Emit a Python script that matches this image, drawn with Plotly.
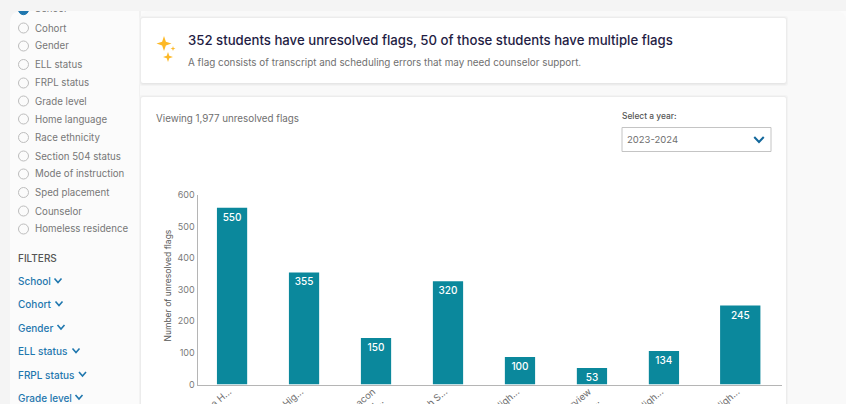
import plotly.graph_objects as go

W, H = 846, 404
categories = ["Alma H...", "Lee Hig...", "Beacon<br>H...", "Birch S...", "Oak High...", "Clearview<br>High...", "Elm High...", "West High..."]
bar_positions = [0, 1, 2, 3, 4, 5, 6, 7.06]
bar_heights = [560, 355, 147, 327, 87, 52, 106, 250]
bar_labels = ["550", "355", "150", "320", "100", "53", "134", "245"]
bar_widths = [0.42, 0.42, 0.42, 0.42, 0.42, 0.42, 0.42, 0.56]
y_ticks = [0, 100, 200, 300, 400, 500, 600]
radio_labels = ["School", "Cohort", "Gender", "ELL status", "FRPL status", "Grade level", "Home language", "Race ethnicity",
                "Section 504 status", "Mode of instruction", "Sped placement", "Counselor", "Homeless residence"]
filter_labels = ["School", "Cohort", "Gender", "ELL status", "FRPL status", "Grade level"]
FONT = "Inter"
TEAL = "#0b889c"
BLUE = "#1f77ae"
GREY = "#6f6f6f"

def fx(x): return x / W
def fy(y): return 1 - y / H

shapes, annos = [], []

def rect(x0, y0, x1, y1, fill, line=None, lw=1, layer="below"):
    shapes.append(dict(type="rect", xref="paper", yref="paper", x0=fx(x0), x1=fx(x1), y0=fy(y1), y1=fy(y0),
                       fillcolor=fill, line=dict(color=line or "rgba(0,0,0,0)", width=lw if line else 0), layer=layer))

def rrect(x0, y0, x1, y1, r, fill):
    p = (f"M{fx(x0+r)},{fy(y0)} L{fx(x1-r)},{fy(y0)} Q{fx(x1)},{fy(y0)} {fx(x1)},{fy(y0+r)} "
         f"L{fx(x1)},{fy(y1-r)} Q{fx(x1)},{fy(y1)} {fx(x1-r)},{fy(y1)} L{fx(x0+r)},{fy(y1)} "
         f"Q{fx(x0)},{fy(y1)} {fx(x0)},{fy(y1-r)} L{fx(x0)},{fy(y0+r)} Q{fx(x0)},{fy(y0)} {fx(x0+r)},{fy(y0)} Z")
    shapes.append(dict(type="path", xref="paper", yref="paper", path=p, fillcolor=fill, line=dict(width=0), layer="below"))

def circle(cx, cy, r, fill, line, lw=1):
    shapes.append(dict(type="circle", xref="paper", yref="paper", x0=fx(cx-r), x1=fx(cx+r), y0=fy(cy+r), y1=fy(cy-r),
                       fillcolor=fill, line=dict(color=line, width=lw), layer="below"))

def text(x, y, s, size, color, anchor="left", weight=400, **kw):
    annos.append(dict(xref="paper", yref="paper", x=fx(x), y=fy(y), text=s, showarrow=False, xanchor=anchor, yanchor="middle",
                      borderpad=0, xshift=-1 if anchor == "left" else 0,
                      font=dict(family=FONT, size=size, color=color, weight=weight), **kw))

def chevron(cx, cy, w, h, color, lw=1.6):
    p = f"M{fx(cx-w/2)},{fy(cy-h/2)} L{fx(cx)},{fy(cy+h/2)} L{fx(cx+w/2)},{fy(cy-h/2)}"
    shapes.append(dict(type="path", xref="paper", yref="paper", path=p, line=dict(color=color, width=lw), layer="above"))

def star(cx, cy, r, color):
    k = r * 0.25
    p = (f"M{fx(cx)},{fy(cy-r)} L{fx(cx+k)},{fy(cy-k)} L{fx(cx+r)},{fy(cy)} L{fx(cx+k)},{fy(cy+k)} "
         f"L{fx(cx)},{fy(cy+r)} L{fx(cx-k)},{fy(cy+k)} L{fx(cx-r)},{fy(cy)} L{fx(cx-k)},{fy(cy-k)} Z")
    shapes.append(dict(type="path", xref="paper", yref="paper", path=p, fillcolor=color, line=dict(width=0), layer="below"))

def shadow_card(x0, y0, x1, y1):
    for d, c in [(3, "#f3f3f3"), (2, "#ececec"), (1, "#e6e6e6")]:
        rrect(x0 - d + 1, y0 - d + 1, x1 + d - 1, y1 + d, 3, c)
    rrect(x0, y0, x1, y1, 2, "#ffffff")

# page backgrounds
rect(0, 0, W, H, "#f4f4f4")
rrect(10, 11, 860, 430, 12, "#fbfbfb")
rect(139, 11, 141, H, "#f1f1f1")
rrect(140, 11, 846, 430, 10, "#f9f9f9")
shadow_card(141, 18, 786, 83)
shadow_card(141, 97, 786, 420)

# sidebar
ys = [9.7, 28, 46, 64.5, 83, 101, 119, 137.5, 156, 174, 192.5, 211, 229]
for i, (lab, y) in enumerate(zip(radio_labels, ys)):
    if i == 0:
        circle(23.5, y, 5, "#1f77ae", "#1f77ae")
    else:
        circle(23.5, y, 5, "#fbfbfb", "#bdbdbd")
        text(35, y, lab, 9.7, "#777777")
rect(10, 0, 140, 11, "#f4f4f4", layer="above")
text(17.5, 257.5, "FILTERS", 10, "#555555", weight=500)
for lab, y, cx in zip(filter_labels, [281, 304, 327.5, 351, 374.5, 397.5], [58, 59, 61, 76, 82.5, 79]):
    text(17.5, y, lab, 10, BLUE, weight=500)
    chevron(cx, y - 0.5, 7, 4, BLUE)

# header card
star(164, 43.5, 7.5, "#fdb927")
star(173, 48.5, 2.5, "#fdb927")
star(168, 57, 5, "#fdb927")
text(187.5, 40, "352 students have unresolved flags, 50 of those students have multiple flags", 13.2, "#1f1d44", weight=500)
text(187.5, 62, "A flag consists of transcript and scheduling errors that may need counselor support.", 9.9, "#707070")

# chart card texts
text(156, 118, "Viewing 1,977 unresolved flags", 9.8, GREY)
text(622, 116.5, "Select a year:", 8.4, "#555555", weight=500)
rect(622, 127.5, 771, 151.5, "#ffffff", "#c4c4c4", 1, "above")
text(627, 139, "2023-2024", 9.5, GREY)
chevron(759, 139.5, 9.5, 5, "#12679b", 2)
annos.append(dict(xref="paper", yref="paper", x=fx(167), y=fy(285.5), text="Number of unresolved flags", textangle=-90,
                  showarrow=False, xanchor="center", yanchor="middle", borderpad=0,
                  font=dict(family=FONT, size=8.5, color="#555555")))

fig = go.Figure(go.Bar(
    x=bar_positions, y=bar_heights, width=bar_widths, marker=dict(color=TEAL, line=dict(width=0)),
    text=bar_labels, textposition="inside", insidetextanchor="end", textangle=0, constraintext="none",
    textfont=dict(family=FONT, size=10, color="white", weight=500), cliponaxis=False,
))
# "School" radio label, sliced by the page's top band as in the reference
fig.add_trace(go.Scatter(x=[35], y=[ys[0]], mode="text", text=[radio_labels[0]], textposition="middle right",
                         textfont=dict(family=FONT, size=9.7, color="#777777"), xaxis="x2", yaxis="y2",
                         hoverinfo="skip", cliponaxis=False))
fig.update_layout(
    width=W, height=H, margin=dict(l=0, r=0, t=0, b=0), autosize=False, showlegend=False,
    paper_bgcolor="rgba(0,0,0,0)", plot_bgcolor="rgba(0,0,0,0)", shapes=shapes, annotations=annos,
    xaxis=dict(domain=[fx(197.5), fx(782)], range=[-0.48, 7.64], tickvals=bar_positions, ticktext=categories,
               tickangle=-40, ticks="", automargin=False, ticklabelstandoff=-3, ticklabelshift=-3,
               showgrid=False, zeroline=False, showline=True, linecolor="#b5b5b5", linewidth=1,
               tickfont=dict(family=FONT, size=9.5, color=GREY)),
    yaxis=dict(domain=[fy(384.5), fy(195)], range=[0, 600], tickvals=y_ticks, ticks="", automargin=False,
               showgrid=False, zeroline=False, showline=True, linecolor="#b5b5b5", linewidth=1,
               tickfont=dict(family=FONT, size=9, color="#7a7a7a")),
    xaxis2=dict(domain=[0, 1], range=[0, W], visible=False, anchor="y2"),
    yaxis2=dict(domain=[0, 1], range=[H, 0], visible=False, anchor="x2"),
)
fig.write_html("out.html", config={"displayModeBar": False},
               post_script="document.body.style.margin='0';document.documentElement.style.overflow='hidden';")
